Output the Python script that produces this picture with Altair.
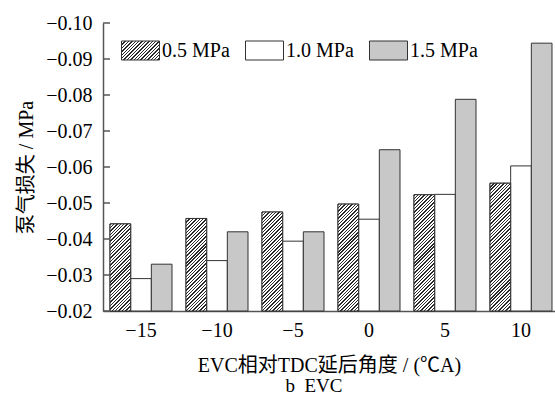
import math
import altair as alt

# ---------------- data ----------------
evc = [-15, -10, -5, 0, 5, 10]
series = ["0.5 MPa", "1.0 MPa", "1.5 MPa"]
p05 = [-0.0442, -0.0457, -0.0475, -0.0497, -0.0523, -0.0555]
p10 = [-0.0290, -0.0340, -0.0394, -0.0455, -0.0524, -0.0603]
p15 = [-0.0330, -0.0420, -0.0420, -0.0648, -0.0788, -0.0944]
y_ticks = [-0.10, -0.09, -0.08, -0.07, -0.06, -0.05, -0.04, -0.03, -0.02]
y_title = "泵气损失 / MPa"
x_title = "EVC相对TDC延后角度 / (℃A)"
caption = "b\u00a0\u00a0EVC"

# ---------------- style ----------------
FONT = "Liberation Serif, Times New Roman, Noto Sans CJK SC"
W, H = 452, 288
Y_TOP, Y_BASE = -0.10, -0.02
PAD_IN, PAD_OUT, ALIGN = 0.184, 0.0658, 0.7
STEP = W / (len(evc) - PAD_IN + 2 * PAD_OUT)
BAR_W = STEP * (1 - PAD_IN) / len(series)
GRAY = "#c8c8c8"
EDGE = "#333333"
AXIS = "#555555"

x_labels = [str(v).replace("-", "\u2212") for v in evc]


def hatch(w, h, period=2.4, frac=0.42, dark="#2a2a2a", light="#ffffff"):
    """Diagonal (////) hatch as a linear gradient in bounding-box units."""
    s = w + h
    n = s / (math.sqrt(2) * period)
    dt = 1.0 / n
    stops = []
    t = 0.0
    while t < 1.0 - 1e-9:
        te = min(t + dt * frac, 1.0)
        t2 = min(t + dt, 1.0)
        stops += [(t, dark), (te, dark), (te, light), (t2, light)]
        t += dt
    k = s / (w * w + h * h)
    return {
        "gradient": "linear",
        "x1": 0, "y1": 0,
        "x2": round(k * w, 5), "y2": round(k * h, 5),
        "stops": [{"offset": round(o, 5), "color": c} for o, c in stops],
    }


def grad_expr(g):
    st = ",".join("{offset:%s,color:'%s'}" % (s["offset"], s["color"]) for s in g["stops"])
    return "({gradient:'linear',x1:%s,y1:%s,x2:%s,y2:%s,stops:[%s]})" % (
        g["x1"], g["y1"], g["x2"], g["y2"], st)


legend_grad = grad_expr(hatch(38, 19))

records = []
for i, lab in enumerate(x_labels):
    for name, vals in zip(series, [p05, p10, p15]):
        records.append({"evc": lab, "series": name, "value": vals[i]})

hatch_records = []
for i, lab in enumerate(x_labels):
    h = abs(p05[i] - Y_BASE) / (Y_BASE - Y_TOP) * H
    hatch_records.append({"evc": lab, "series": series[0], "value": p05[i],
                          "grad": hatch(BAR_W, h)})

tick_records = [{"value": v} for v in y_ticks]

x_enc = alt.X(
    "evc:N", sort=x_labels,
    scale=alt.Scale(paddingInner=PAD_IN, paddingOuter=PAD_OUT, align=ALIGN),
    axis=alt.Axis(title=x_title, labelAngle=0, ticks=False, tickSize=0,
                  labelPadding=9, titlePadding=15),
)
xo_enc = alt.XOffset("series:N", sort=series,
                     scale=alt.Scale(paddingInner=0, paddingOuter=0))
y_scale = alt.Scale(domain=[Y_TOP, Y_BASE], reverse=True, nice=False, zero=False)
y_axis = alt.Axis(title=y_title, values=y_ticks, format=".2f", ticks=False,
                  tickSize=0, labelPadding=11, titlePadding=9, grid=False)
y_enc = alt.Y("value:Q", scale=y_scale, axis=y_axis)

bars = alt.Chart(alt.InlineData(values=records)).mark_bar(
    stroke=EDGE, strokeWidth=1
).encode(
    x=x_enc, xOffset=xo_enc, y=y_enc, y2=alt.datum(Y_BASE),
    fill=alt.Fill(
        "series:N",
        scale=alt.Scale(domain=series, range=[{"expr": legend_grad}, "#ffffff", GRAY]),
        legend=alt.Legend(
            orient="none", legendX=18, legendY=8, direction="horizontal",
            title=None, symbolType="M-1,-0.5H1V0.5H-1Z", symbolSize=1444,
            symbolStrokeColor=EDGE, symbolStrokeWidth=1, symbolOpacity=1,
            labelFont=FONT, labelFontSize=20, labelColor="black",
            labelOffset=2, columnPadding=13, padding=0,
        ),
    ),
)

hatched = alt.Chart(alt.InlineData(values=hatch_records)).mark_bar(
    stroke=EDGE, strokeWidth=1
).encode(
    x=x_enc, xOffset=xo_enc, y=y_enc, y2=alt.datum(Y_BASE),
    fill=alt.Fill("grad:N", scale=None, legend=None),
)

ticks = alt.Chart(alt.InlineData(values=tick_records)).mark_rule(
    color=AXIS, strokeWidth=1.5
).encode(
    y=y_enc,
    x=alt.value(0), x2=alt.value(7),
)

chart = alt.layer(bars, hatched, ticks).properties(
    width=W, height=H,
    background="white",
    autosize=alt.AutoSizeParams(type="none"),
    padding={"left": 103, "top": 23, "right": 0, "bottom": 86},
    title=alt.Title(caption, orient="bottom", anchor="middle", dx=-15, offset=2,
                    font=FONT, fontSize=19, fontWeight="normal", color="black"),
).configure_view(stroke=None).configure_axis(
    domainColor=AXIS, domainWidth=1.5,
    labelFont=FONT, labelFontSize=20, labelColor="black",
    titleFont=FONT, titleFontSize=20, titleFontWeight="normal", titleColor="black",
)

chart.save("out.html", embed_options={"renderer": "svg", "actions": False})
